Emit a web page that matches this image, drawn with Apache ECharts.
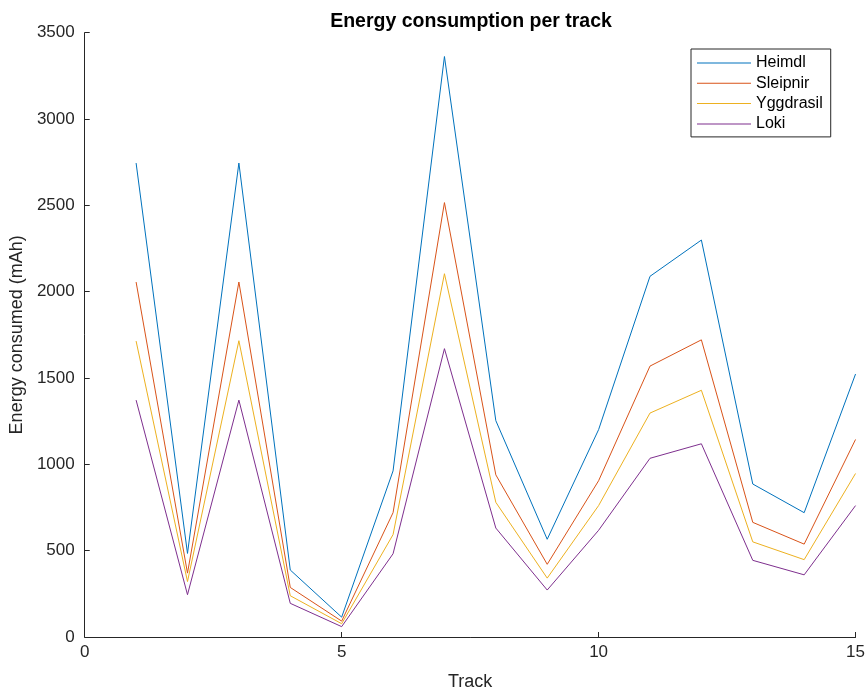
<!DOCTYPE html>
<html>
<head>
<meta charset="utf-8">
<script src="https://cdn.jsdelivr.net/npm/echarts@6/dist/echarts.min.js"></script>
<style>
html,body{margin:0;padding:0;background:#fff;}
#chart{width:868px;height:696px;}
</style>
</head>
<body>
<div id="chart"></div>
<script>
const tracks = [1,2,3,4,5,6,7,8,9,10,11,12,13,14,15];
const heimdl    = [2745, 484, 2745, 388, 115, 962, 3362, 1253, 566, 1201, 2089, 2299, 886, 720, 1523];
const sleipnir  = [2056, 370, 2056, 287,  92, 720, 2516,  939, 421,  905, 1569, 1721, 664, 538, 1144];
const yggdrasil = [1714, 321, 1716, 239,  77, 593, 2104,  780, 341,  761, 1297, 1429, 551, 448,  947];
const loki      = [1372, 245, 1372, 195,  60, 482, 1670,  631, 272,  618, 1035, 1119, 444, 360,  761];
const seriesNames = ['Heimdl','Sleipnir','Yggdrasil','Loki'];
const seriesData = [heimdl, sleipnir, yggdrasil, loki];
const colors = ['#0072BD','#D95319','#EDB120','#7E2F8E'];

const font = '"Liberation Sans", Arial, Helvetica, sans-serif';
const lineIcon = 'path://M0,0L54,0L54,0Z M0,7.5L54,7.5L54,8.5L0,8.5Z M0,16L54,16L54,16Z';
const chart = echarts.init(document.getElementById('chart'), null, {renderer:'canvas'});
const axisCommon = {
  axisLine:{show:true, lineStyle:{color:'#262626', width:1}},
  axisTick:{show:true, inside:true, length:5, lineStyle:{color:'#262626'}},
  splitLine:{show:false},
  axisLabel:{color:'#262626', fontSize:17, fontFamily:font},
  nameTextStyle:{color:'#262626', fontSize:18, fontFamily:font}
};
chart.setOption({
  animation:false,
  backgroundColor:'#ffffff',
  color: colors,
  title:{
    text:'Energy consumption per track',
    left:466, top:7, textAlign:'center',
    textStyle:{fontSize:19.5, fontWeight:'bold', color:'#000', fontFamily:font}
  },
  legend:{
    orient:'vertical', left:691, top:49,
    padding:[6,8,5,6], itemGap:4.3, itemWidth:54, itemHeight:16,
    borderColor:'#262626', borderWidth:1, backgroundColor:'#fff',
    icon: lineIcon,
    textStyle:{fontSize:16, lineHeight:16, color:'#000', fontFamily:font},
    data: seriesNames
  },
  grid:{left:83.5, right:9.7, top:32.7, bottom:53.3, containLabel:false},
  xAxis:Object.assign({}, axisCommon, {
    type:'value', min:0, max:15, interval:5,
    name:'Track', nameLocation:'middle', nameGap:36,
    axisLabel:Object.assign({}, axisCommon.axisLabel, {margin:7})
  }),
  yAxis:Object.assign({}, axisCommon, {
    type:'value', min:0, max:3500, interval:500,
    name:'Energy consumed (mAh)', nameLocation:'middle', nameGap:48,
    axisLabel:Object.assign({}, axisCommon.axisLabel, {margin:10, formatter:(v)=>String(v)})
  }),
  series: seriesNames.map((n,i)=>({
    name:n, type:'line', symbol:'none',
    data: tracks.map((t,j)=>[t, seriesData[i][j]]),
    lineStyle:{width:1, color:colors[i]},
    itemStyle:{color:colors[i]}
  }))
});
</script>
</body>
</html>
